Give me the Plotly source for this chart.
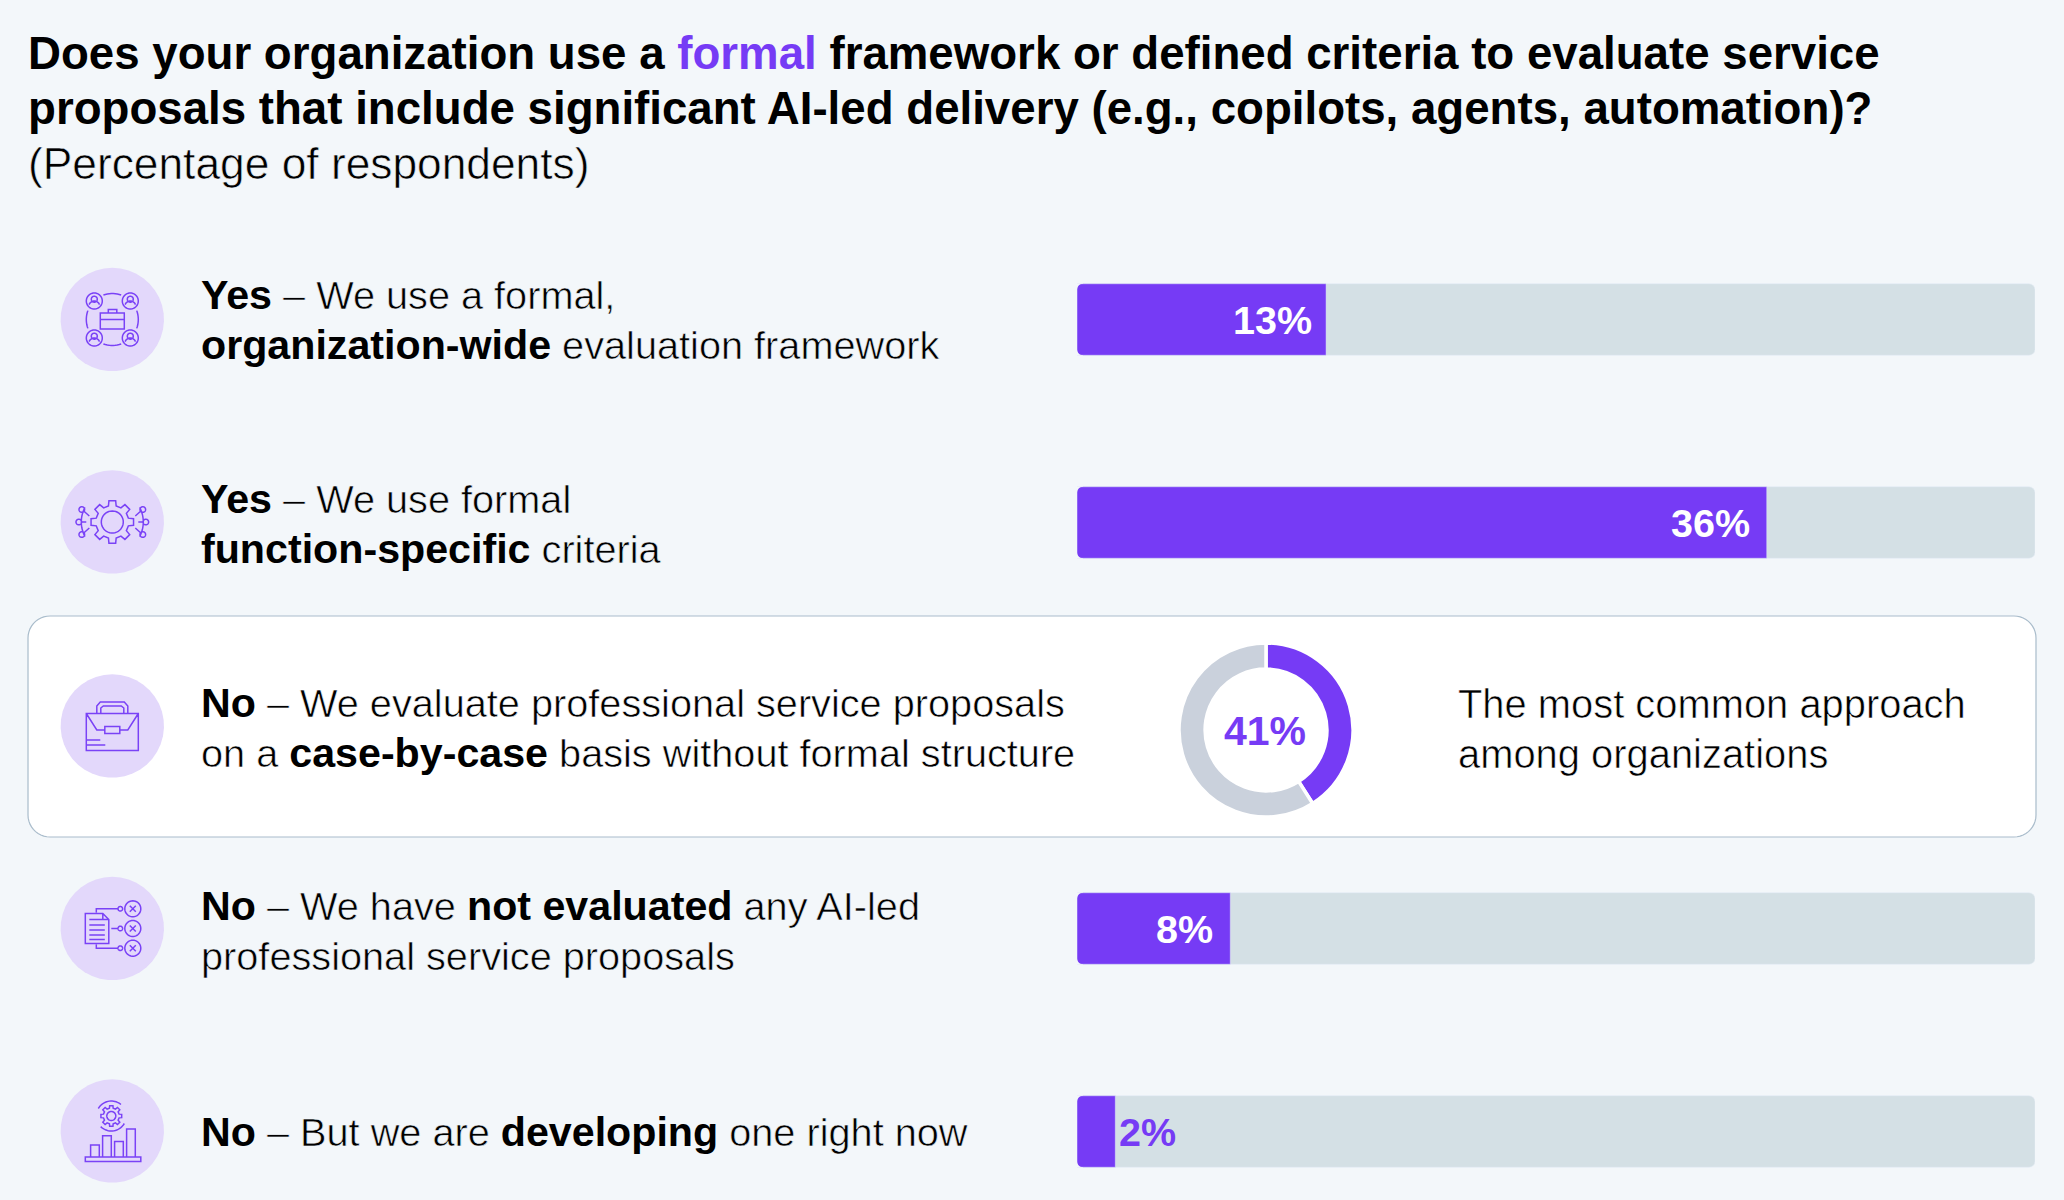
import re
import numpy as np
import plotly.graph_objects as go

W, H = 2064, 1200

# Survey responses (percentage of respondents)
categories = ["formal org-wide", "function-specific", "case-by-case", "not evaluated", "developing"]
bar_values = [13, 36, None, 8, 2]
track_values = [50, 50, None, 50, 50]
bar_labels = ["13%", "36%", None, "8%", "2%"]
highlight_value = 41
highlight_rest = 59
highlight_label = "41%"

title_lines = [
    '<b>Does your organization use a <span style="color:#763BF5">formal</span> framework or defined criteria to evaluate service</b>',
    "<b>proposals that include significant AI-led delivery (e.g., copilots, agents, automation)?</b>",
    "(Percentage of respondents)",
]
row_lines = [
    ["<b>Yes</b> – We use a formal,", "<b>organization-wide</b> evaluation framework"],
    ["<b>Yes</b> – We use formal", "<b>function-specific</b> criteria"],
    ["<b>No</b> – We evaluate professional service proposals", "on a <b>case-by-case</b> basis without formal structure"],
    ["<b>No</b> – We have <b>not evaluated</b> any AI-led", "professional service proposals"],
    ["<b>No</b> – But we are <b>developing</b> one right now"],
]
callout_lines = ["The most common approach", "among organizations"]

BG = "#F3F7FA"
PURPLE = "#763BF5"
TRACK = "#D4E0E5"
RING = "#CAD1DC"
BADGE = "#E3D8FB"
ICON = "#7A42F6"
FONT = "Liberation Sans"


def px(x, y):
    return f"{x / W:.5f},{1 - y / H:.5f}"


def poly(points, close=False):
    return "M" + " L".join(px(x, y) for x, y in points) + (" Z" if close else "")


def arc(cx, cy, r, a0=0, a1=360, n=40):
    t = np.radians(np.linspace(a0, a1, n))
    return list(zip(cx + r * np.sin(t), cy - r * np.cos(t)))


def circle(cx, cy, r):
    return poly(arc(cx, cy, r), close=True)


def rect(x0, y0, x1, y1):
    return poly([(x0, y0), (x1, y0), (x1, y1), (x0, y1)], close=True)


def gear(cx, cy, r_out, r_in, teeth):
    pts = []
    step = 360 / teeth
    for i in range(teeth):
        a = i * step
        for off, r in [(-0.30, r_in), (-0.20, r_out), (0.20, r_out), (0.30, r_in)]:
            t = np.radians(a + off * step)
            pts.append((cx + r * np.sin(t), cy - r * np.cos(t)))
    return poly(pts, close=True)


def person(cx, cy):
    return [circle(cx, cy, 8), circle(cx, cy - 1.8, 3),
            poly(arc(cx, cy + 5.5, 5.5, -70, 70, 12))]


def icon_network(cx, cy):
    parts = []
    for dx in (-18, 18):
        for dy in (-18.5, 18.5):
            parts += person(cx + dx, cy + dy)
    parts += [poly(arc(cx, cy, 26, -20, 20, 10)), poly(arc(cx, cy, 26, 70, 110, 10)),
              poly(arc(cx, cy, 26, 160, 200, 10)), poly(arc(cx, cy, 26, 250, 290, 10))]
    parts += [rect(cx - 12, cy - 6.5, cx + 12, cy + 9.5), rect(cx - 4, cy - 10, cx + 4.5, cy - 6.5),
              poly([(cx - 12, cy), (cx + 12, cy)])]
    return parts


def icon_gear(cx, cy):
    parts = [circle(cx, cy, 11), gear(cx, cy, 21.5, 16.5, 8)]
    parts += [poly(arc(cx, cy, 31, 62, 118, 14)), poly(arc(cx, cy, 31, 242, 298, 14))]
    for sx in (-1, 1):
        parts += [circle(cx + sx * 30.5, cy - 12.5, 2.8), circle(cx + sx * 33.5, cy, 2.8),
                  circle(cx + sx * 30.5, cy + 12.5, 2.8),
                  poly([(cx + sx * 28, cy - 10.5), (cx + sx * 23, cy - 6)]),
                  poly([(cx + sx * 31, cy), (cx + sx * 26, cy)]),
                  poly([(cx + sx * 28, cy + 10.5), (cx + sx * 23, cy + 6)])]
    return parts


def icon_case(cx, cy):
    return [
        rect(cx - 26, cy - 12.5, cx + 26, cy + 24.5),
        poly([(cx - 15.5, cy - 12.5), (cx - 15.5, cy - 20), (cx - 12, cy - 24), (cx + 12, cy - 24),
              (cx + 15.5, cy - 20), (cx + 15.5, cy - 12.5)]),
        poly([(cx - 11.5, cy - 12.5), (cx - 11.5, cy - 18), (cx - 9, cy - 20), (cx + 9, cy - 20),
              (cx + 11.5, cy - 18), (cx + 11.5, cy - 12.5)]),
        poly([(cx - 26, cy - 12.5), (cx - 15.5, cy + 4), (cx - 7.5, cy + 4)]),
        poly([(cx + 7.5, cy + 4), (cx + 15.5, cy + 4), (cx + 26, cy - 12.5)]),
        rect(cx - 7.5, cy + 0.5, cx + 7.5, cy + 7.5),
        poly([(cx - 26, cy + 14), (cx - 12, cy + 14)]),
        poly([(cx - 26, cy + 19), (cx - 7, cy + 19)]),
    ]


def icon_doc(cx, cy):
    x0, x1, y0, y1 = cx - 27, cx - 3.5, cy - 15, cy + 15
    parts = [poly([(x0, y0), (x1 - 6, y0), (x1, y0 + 6), (x1, y1), (x0, y1)], close=True),
             poly([(x1 - 6, y0), (x1 - 6, y0 + 6), (x1, y0 + 6)])]
    for dy in (6, 11.5, 16.5, 21.5, 26):
        parts.append(poly([(x0 + 4, y0 + dy), (x1 - 4, y0 + dy)]))
    for dy in (-19.7, 0, 19.7):
        ox, oy = cx + 20.5, cy + dy
        parts += [circle(ox, oy, 8), poly([(ox - 3, oy - 3), (ox + 3, oy + 3)]),
                  poly([(ox - 3, oy + 3), (ox + 3, oy - 3)]), circle(cx + 8, oy, 2.3)]
    parts += [poly([(cx - 16, cy - 16), (cx - 16, cy - 19.7), (cx + 5.7, cy - 19.7)]),
              poly([(cx - 1, cy), (cx + 5.7, cy)]),
              poly([(cx - 16, cy + 16), (cx - 16, cy + 19.7), (cx + 5.7, cy + 19.7)])]
    return parts


def icon_growth(cx, cy):
    parts = [rect(cx - 27, cy + 26, cx + 28.5, cy + 30.5)]
    for x0, top in ((-21.7, 1414), (-9.7, 1388), (2.3, 1404), (14.3, 1369)):
        parts.append(poly([(cx + x0, cy + 26), (cx + x0, 640 + top / 2.8), (cx + x0 + 8.7, 640 + top / 2.8),
                           (cx + x0 + 8.7, cy + 26)]))
    gx, gy = cx - 1, cy - 15
    parts += [circle(gx, gy, 4.5), gear(gx, gy, 10.5, 8, 8),
              poly(arc(gx, gy, 15, 300, 400, 20)), poly(arc(gx, gy, 15, 120, 225, 20))]
    return parts


badges = [(112.3, 319.5, icon_network), (112.3, 522, icon_gear), (112.3, 726, icon_case),
          (112.3, 928.5, icon_doc), (112.3, 1131, icon_growth)]

shapes = [
    dict(type="path", xref="paper", yref="paper", layer="below",
         path=poly([(28 + 22 - 22 * np.cos(np.radians(a)), 616 + 22 - 22 * np.sin(np.radians(a))) for a in np.linspace(0, 90, 12)]
                   + [(2036 - 22 + 22 * np.sin(np.radians(a)), 616 + 22 - 22 * np.cos(np.radians(a))) for a in np.linspace(0, 90, 12)]
                   + [(2036 - 22 + 22 * np.cos(np.radians(a)), 837 - 22 + 22 * np.sin(np.radians(a))) for a in np.linspace(0, 90, 12)]
                   + [(28 + 22 - 22 * np.sin(np.radians(a)), 837 - 22 + 22 * np.cos(np.radians(a))) for a in np.linspace(0, 90, 12)],
                   close=True),
         fillcolor="#FFFFFF", line=dict(color="#A9BCCB", width=1.2)),
]
for cx, cy, draw in badges:
    shapes.append(dict(type="path", xref="paper", yref="paper", path=circle(cx, cy, 51.7),
                       fillcolor=BADGE, line=dict(width=0)))
    shapes.append(dict(type="path", xref="paper", yref="paper", path=" ".join(draw(cx, cy)),
                       line=dict(color=ICON, width=1.5)))

# Bars only round their far end, so the near corners get trimmed with background wedges
BAR_X0, BAR_X1 = 1077, 2035
ROW_TOP, ROW_STEP = 319.5, 203
BAR_H = 71.5
CORNER = 6
for i, v in enumerate(bar_values):
    if v is None:
        continue
    yc = ROW_TOP + i * ROW_STEP
    for sign in (-1, 1):
        edge = yc + sign * BAR_H / 2
        pts = [(BAR_X0 - 0.5, edge + sign * 0.5), (BAR_X0 + CORNER, edge + sign * 0.5)]
        for a in np.linspace(0, 90, 8):
            pts.append((BAR_X0 + CORNER - CORNER * np.sin(np.radians(a)),
                        edge - sign * (CORNER - CORNER * np.cos(np.radians(a)))))
        pts.append((BAR_X0 - 0.5, edge - sign * CORNER))
        shapes.append(dict(type="path", xref="paper", yref="paper", path=poly(pts, close=True),
                           fillcolor=BG, line=dict(width=0)))

annotations = []


def thin(text, backdrop, bold_size=None):
    # The body copy is a light cut: trim the regular glyphs with a hairline in the backdrop colour
    style = f"stroke:{backdrop};stroke-width:0.6px"
    out = []
    for seg in re.split(r"(<b>.*?</b>)", text):
        if not seg:
            continue
        if seg.startswith("<b>"):
            out.append(f'<span style="font-size:{bold_size}px">{seg}</span>' if bold_size else seg)
        else:
            out.append(f'<span style="{style}">{seg}</span>')
    return "".join(out)


def add_text(text, x, y, size, color="#000000"):
    annotations.append(dict(text=text, x=x / W, y=1 - y / H, xref="paper", yref="paper",
                            xanchor="left", yanchor="middle", showarrow=False, align="left",
                            font=dict(family=FONT, size=size, color=color)))


for line, y, size in zip(title_lines, (53, 109, 163), (45.65, 45.65, 44.3)):
    add_text(thin(line, BG), 25.5, y, size)
row_ys = ((295.5, 345.5), (498.5, 548.5), (703, 753), (905.5, 955.5), (1131.5,))
for i, (lines, ys) in enumerate(zip(row_lines, row_ys)):
    for line, y in zip(lines, ys):
        add_text(thin(line, "#FFFFFF" if i == 2 else BG, 41.2), 198.5, y, 39.7)
for line, y in zip(callout_lines, (703.5, 753.5)):
    add_text(thin(line, "#FFFFFF"), 1455.5, y, 39.9)

# Percent labels sit just inside the bar end, or past it when the bar is too short
label_gaps = [12, 15, None, 15, 2]
for cat, v, lab, gap in zip(categories, bar_values, bar_labels, label_gaps):
    if v is None:
        continue
    inside = v > 5
    annotations.append(dict(text=f"<b>{lab}</b>", x=v, y=cat, xref="x", yref="y",
                            xanchor="right" if inside else "left", xshift=-gap if inside else gap,
                            yanchor="middle", showarrow=False,
                            font=dict(family=FONT, size=39.5, color="#FFFFFF" if inside else PURPLE)))

annotations.append(dict(text=f"<b>{highlight_label}</b>", x=1265 / W, y=1 - 731 / H, xref="paper", yref="paper",
                        xanchor="center", yanchor="middle", showarrow=False,
                        font=dict(family=FONT, size=41, color=PURPLE)))

fig = go.Figure()
fig.add_trace(go.Bar(y=categories, x=track_values, orientation="h", marker=dict(color=TRACK, cornerradius=6),
                     hoverinfo="skip", showlegend=False))
fig.add_trace(go.Bar(y=categories, x=bar_values, orientation="h", marker=dict(color=PURPLE, cornerradius=6),
                     showlegend=False))
fig.add_trace(go.Pie(values=[highlight_value, highlight_rest], hole=0.70, sort=False, direction="clockwise", rotation=0,
                     marker=dict(colors=[PURPLE, RING], line=dict(color="#FFFFFF", width=3.5)),
                     textinfo="none", showlegend=False,
                     domain=dict(x=[(1266 - 87) / W, (1266 + 87) / W], y=[1 - (730 + 87) / H, 1 - (730 - 87) / H])))

top_px = ROW_TOP - ROW_STEP / 2
fig.update_layout(
    width=W, height=H, margin=dict(l=0, r=0, t=0, b=0), paper_bgcolor=BG, plot_bgcolor="rgba(0,0,0,0)",
    barmode="overlay", bargap=1 - BAR_H / ROW_STEP, shapes=shapes, annotations=annotations,
    xaxis=dict(domain=[BAR_X0 / W, BAR_X1 / W], range=[0, 50], visible=False, fixedrange=True),
    yaxis=dict(domain=[0, 1 - top_px / H], type="category", categoryorder="array", categoryarray=categories,
               range=[(H - ROW_TOP) / ROW_STEP, -0.5], visible=False, fixedrange=True),
)
fig.write_html("out.html")
